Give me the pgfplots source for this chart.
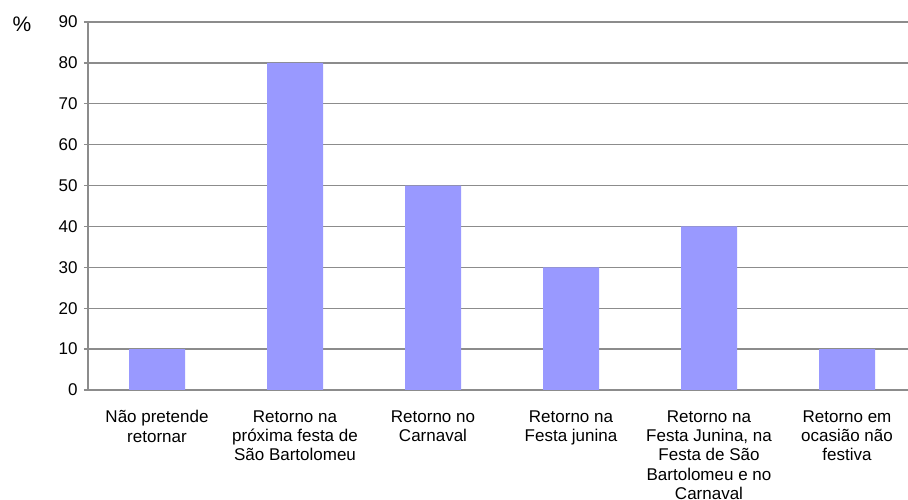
\documentclass[border=0pt]{standalone}
\usepackage{pgfplots}
\pgfplotsset{compat=1.18}
\usepackage{fontspec}
\setmainfont{Liberation Sans}
\definecolor{barc}{RGB}{153,153,255}
\definecolor{gridc}{RGB}{140,140,140}
\begin{document}
\begin{tikzpicture}
\useasboundingbox (-88pt,-110pt) rectangle (820pt,390pt);
\begin{axis}[
  at={(0,0)}, anchor=south west,
  scale only axis, width=820pt, height=368pt,
  xmin=-0.5, xmax=5.442, ymin=0, ymax=90,
  ytick={0,10,...,90},
  xtick={0,1,2,3,4,5},
  xticklabels={{Não pretende\\retornar},{Retorno na\\próxima festa de\\São Bartolomeu},{Retorno no\\Carnaval},{Retorno na\\Festa junina},{Retorno na\\Festa Junina, na\\Festa de São\\Bartolomeu e no\\Carnaval},{Retorno em\\ocasião não\\festiva}},
  axis x line*=bottom, axis y line*=left,
  axis line style={gridc, line width=1.3pt, -},
  ymajorgrids, grid style={gridc, line width=1.3pt},
  major x tick style={draw=none},
  major y tick style={gridc, line width=1.3pt},
  major tick length=4pt,
  tick align=outside,
  /pgf/number format/assume math mode=true,
  tick label style={font=\fontsize{17}{19.3}\selectfont},
  xticklabel style={align=center, yshift=-13pt},
  yticklabel style={xshift=-3pt},
  clip=false,
]
\addplot[ybar, bar width=56pt, fill=barc, draw=none] coordinates {(0,10) (1,80) (2,50) (3,30) (4,40) (5,10)};
\end{axis}
\node[font=\fontsize{21}{24}\selectfont, anchor=center] at (-66pt,366pt) {\%};
\end{tikzpicture}
\end{document}
